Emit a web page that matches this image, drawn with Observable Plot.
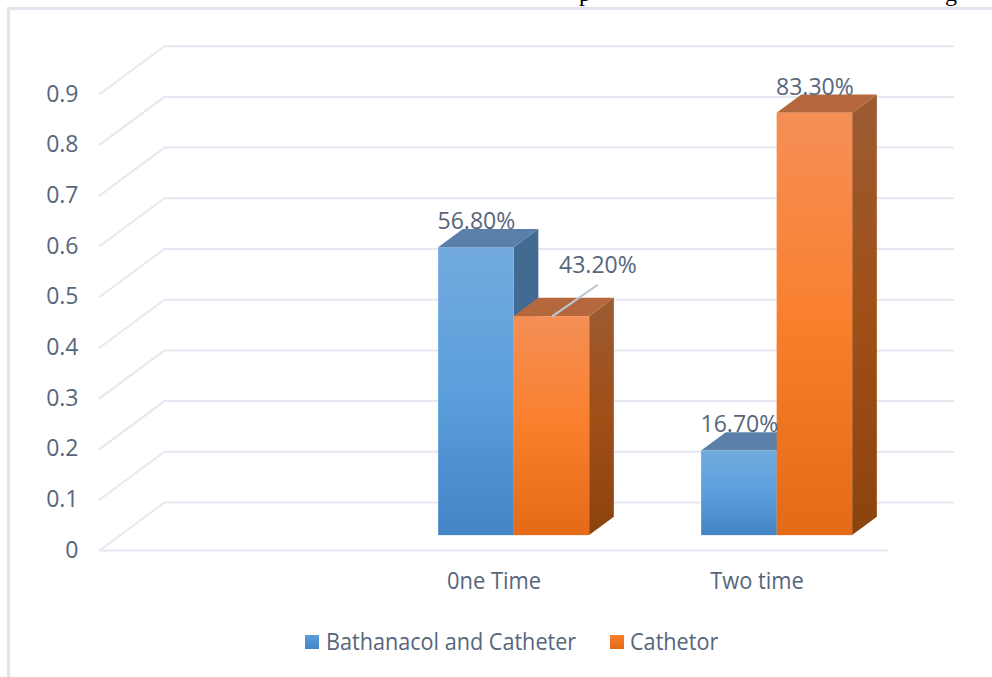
<!DOCTYPE html>
<html>
<head>
<meta charset="utf-8">
<script src="https://cdn.jsdelivr.net/npm/d3@7"></script>
<script src="https://cdn.jsdelivr.net/npm/@observablehq/plot@0.6"></script>
<style>
  html, body { margin: 0; padding: 0; background: #fff; overflow: hidden; }
  #page { position: relative; width: 992px; height: 677px; overflow: hidden; }
  #rule { position: absolute; left: 7px; top: 7px; width: 1100px; height: 800px;
          border-left: 3px solid #e0e4ec; border-top: 3px solid #e0e4ec; }
  #chart { position: absolute; left: 0; top: 0; }
  #chart svg { display: block; background: transparent; }
  .clipped { position: absolute; top: -19px; font: 24px/24px "Liberation Serif", serif; color: #000; }
  #legend { position: absolute; left: 305px; top: 628px; height: 26px;
            font: 23px/26px "Open Sans", sans-serif; color: #56667c; }
  #legend span { position: absolute; top: 0; white-space: nowrap; }
  #legend span.sw { width: 14px; height: 14px; top: 7px; }
  #legend span.lab { transform: scaleX(0.94); transform-origin: left center; }
</style>
</head>
<body>
<div id="page">
  <div id="rule"></div>
  <div id="chart"></div>
  <div class="clipped" style="left:579px">p</div>
  <div class="clipped" style="left:945px">g</div>
  <div id="legend"></div>
</div>
<script>
// Grouped 3-D column chart: two series over three category slots (the first slot is empty).
const categories = ["", "0ne Time", "Two time"];
const seriesNames = ["Bathanacol and Catheter", "Cathetor"];
const bathanacol = [null, 0.568, 0.167];
const cathetor = [null, 0.432, 0.833];
const bathanacolLabels = [null, "56.80%", "16.70%"];
const cathetorLabels = [null, "43.20%", "83.30%"];
const yTicks = [0, 0.1, 0.2, 0.3, 0.4, 0.5, 0.6, 0.7, 0.8, 0.9];

// Oblique projection: a point at depth d (0 = front wall, 1 = back wall) slides right and up.
const depthX = 0.2471;   // x units per full depth
const depthY = 0.0947;   // value units per full depth
const barFront = 0.31, barBack = 0.69;
const barWidth = 0.2871; // one column, in category-slot units

const px = (x, d) => x + d * depthX;
const py = (v, d) => v + d * depthY;

const rows = [];
[bathanacol, cathetor].forEach((vals, s) => vals.forEach((v, c) => {
  if (v != null) rows.push({series: s, cat: c, value: v,
    label: (s === 0 ? bathanacolLabels : cathetorLabels)[c],
    left: c + 0.5 + (s - 1) * barWidth, right: c + 0.5 + s * barWidth});
}));

const wallLines = yTicks.flatMap(v => [
  {v, x: px(0, 0), y: py(v, 0)},
  {v, x: px(0, 1), y: py(v, 1)},
  {v, x: px(3, 1), y: py(v, 1)}
]);

const sideFaces = s => rows.filter(r => r.series === s).flatMap(r => [barFront, barBack].map(d => ({
  id: r.cat, x: px(r.right, d), y1: py(0, d), y2: py(r.value, d)
})));
const topFaces = s => rows.filter(r => r.series === s).flatMap(r => [barFront, barBack].map(d => ({
  id: r.cat, y: py(r.value, d), x1: px(r.left, d), x2: px(r.right, d)
})));
const frontFaces = s => rows.filter(r => r.series === s).map(r => ({
  x1: px(r.left, barFront), x2: px(r.right, barFront), y1: py(0, barFront), y2: py(r.value, barFront)
}));

// Vertical gradients used by the column faces.
const gradients = {
  blueFront: ["#72aade", "#5b9fdc", "#4484c5"],
  blueSide: ["#446a90", "#3f6a96", "#2f5f8f"],
  orangeFront: ["#f58f56", "#fa7f2d", "#e46a17"],
  orangeSide: ["#9c5b33", "#a04f17", "#8c430d"]
};
function defs() {
  const svg = d3.create("svg:g");
  const d = svg.append("defs");
  for (const [id, cols] of Object.entries(gradients)) {
    const g = d.append("linearGradient").attr("id", id).attr("x1", 0).attr("x2", 0).attr("y1", 0).attr("y2", 1);
    cols.forEach((c, i) => g.append("stop").attr("offset", i / (cols.length - 1)).attr("stop-color", c));
  }
  return svg.node();
}

const faces = s => {
  const prefix = s === 0 ? "blue" : "orange";
  return [
    Plot.areaY(sideFaces(s), {x: "x", y1: "y1", y2: "y2", z: "id", fill: `url(#${prefix}Side)`}),
    Plot.areaX(topFaces(s), {y: "y", x1: "x1", x2: "x2", z: "id", fill: s === 0 ? "#5a80aa" : "#b5683d"}),
    Plot.rect(frontFaces(s), {x1: "x1", x2: "x2", y1: "y1", y2: "y2", fill: `url(#${prefix}Front)`, inset: 0})
  ];
};

const labelColor = "#56667c";
const font = "Open Sans";
const wallColor = "#e4e8f0";
const isLeader = r => r.label === "43.20%";
const labelX = r => px((r.left + r.right) / 2, barFront);
const labelY = r => py(r.value, barFront);

const plot = Plot.plot({
  width: 992, height: 620,
  marginLeft: 99, marginRight: 104, marginTop: 43, marginBottom: 70,
  x: {type: "linear", domain: [0, 3]},
  y: {domain: [0, 1]},
  style: {fontFamily: font, background: "transparent", overflow: "visible"},
  marks: [
    defs,
    Plot.line(wallLines, {x: "x", y: "y", z: "v", stroke: wallColor, strokeWidth: 2}),
    Plot.ruleY([0], {x1: 0, x2: 3, stroke: wallColor, strokeWidth: 2}),
    Plot.axisY({ticks: yTicks, tickFormat: d => String(d), tickSize: 0, tickPadding: 21,
      label: null, fontSize: 23, color: labelColor}),
    Plot.axisX({ticks: [0.5, 1.5, 2.5], tickFormat: d => categories[d - 0.5], tickSize: 0, tickPadding: 22,
      label: null, fontSize: 23, color: labelColor, className: "cats"}),
    ...faces(0),
    ...faces(1),
    Plot.link(rows.filter(isLeader), {
      x1: labelX, y1: labelY,
      x2: r => labelX(r) + 0.175, y2: r => labelY(r) + 0.063,
      stroke: "#bcc8d6", strokeWidth: 2
    }),
    Plot.text(rows.filter(r => !isLeader(r)), {x: labelX, y: labelY, text: "label", dy: -26,
      fontSize: 23, fill: labelColor}),
    Plot.text(rows.filter(isLeader), {x: labelX, y: labelY, text: "label", dx: 46, dy: -51,
      fontSize: 23, fill: labelColor})
  ]
});
document.getElementById("chart").append(plot);

// The category labels are set slightly condensed.
plot.querySelectorAll("text").forEach(t => {
  if (categories.includes(t.textContent) && t.textContent) {
    t.setAttribute("textLength", t.getComputedTextLength() * 0.95);
    t.setAttribute("lengthAdjust", "spacingAndGlyphs");
  }
});

const legend = d3.select("#legend");
const entryOffsets = [0, 305];
const labelGaps = [21, 20];
seriesNames.forEach((name, i) => {
  legend.append("span").attr("class", "sw").style("left", `${entryOffsets[i]}px`)
    .style("background", i === 0 ? "linear-gradient(#5b9fdc,#4484c5)" : "linear-gradient(#fa7f2d,#e46a17)");
  legend.append("span").attr("class", "lab").style("left", `${entryOffsets[i] + labelGaps[i]}px`).text(name);
});
</script>
</body>
</html>
